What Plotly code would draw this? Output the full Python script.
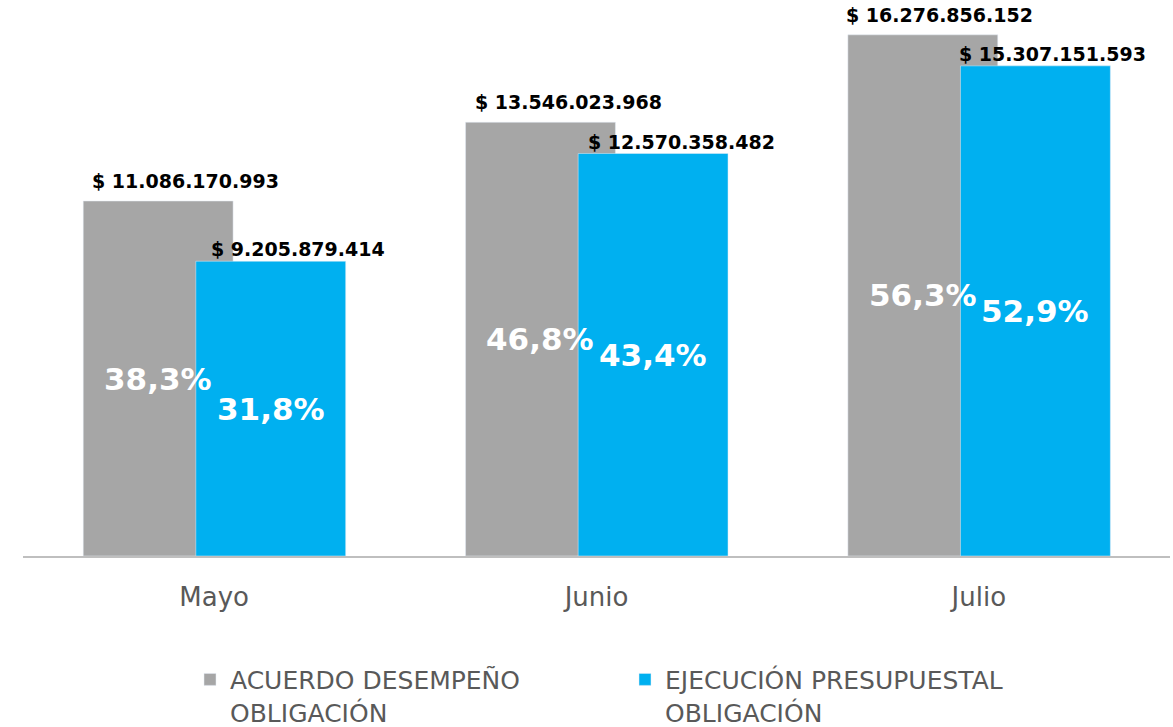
import plotly.graph_objects as go

# ---- data ----
months = ["Mayo", "Junio", "Julio"]
acuerdo = [11086170993, 13546023968, 16276856152]
ejecucion = [9205879414, 12570358482, 15307151593]
acuerdo_pct = [38.3, 46.8, 56.3]
ejecucion_pct = [31.8, 43.4, 52.9]
series_names = ["ACUERDO DESEMPEÑO<br>OBLIGACIÓN", "EJECUCIÓN PRESUPUESTAL<br>OBLIGACIÓN"]

# ---- style ----
GRAY = "#A6A6A6"
BLUE = "#00B0F0"
BAR_W = 0.392
OFF_GRAY = -0.3425
OFF_BLUE = -0.048
LABEL_DX = [27, 28, 17]
DY_GRAY = 20
DY_BLUE = 12
FONT = "DejaVu Sans"
PLOT_H = 556


def fmt_money(v):
    return "$ " + f"{v:,}".replace(",", ".")


def fmt_pct(p):
    return f"{p:.1f}".replace(".", ",") + "%"


fig = go.Figure()
fig.add_trace(go.Bar(x=months, y=acuerdo, name=series_names[0], marker_color=GRAY,
                     width=BAR_W, offset=OFF_GRAY, hoverinfo="skip"))
fig.add_trace(go.Bar(x=months, y=ejecucion, name=series_names[1], marker_color=BLUE,
                     width=BAR_W, offset=OFF_BLUE, hoverinfo="skip"))

annotations = []
for i in range(len(months)):
    for vals, pcts, off, dy in ((acuerdo, acuerdo_pct, OFF_GRAY, DY_GRAY),
                                (ejecucion, ejecucion_pct, OFF_BLUE, DY_BLUE)):
        xc = i + off + BAR_W / 2
        annotations.append(dict(x=xc, y=vals[i], xref="x", yref="y", text=fmt_money(vals[i]),
                                showarrow=False, yanchor="middle", xanchor="center",
                                yshift=dy, xshift=LABEL_DX[i],
                                font=dict(family=FONT, size=19, color="black", weight="bold")))
        annotations.append(dict(x=xc, y=vals[i] / 2, xref="x", yref="y", text=fmt_pct(pcts[i]),
                                showarrow=False, yanchor="middle", xanchor="center",
                                font=dict(family=FONT, size=31, color="white", weight="bold")))

fig.update_layout(
    width=1173, height=727,
    margin=dict(l=23, r=3, t=0, b=727 - PLOT_H, autoexpand=False),
    barmode="overlay",
    plot_bgcolor="white", paper_bgcolor="white",
    hovermode=False,
    xaxis=dict(range=[-0.5, 2.5], showline=True, linecolor="#BFBFBF", linewidth=2,
               ticks="", showgrid=False, zeroline=False, ticklabelstandoff=17,
               tickfont=dict(family=FONT, size=26, color="#595959")),
    yaxis=dict(range=[0, PLOT_H / 32.02e-9], visible=False, showgrid=False, zeroline=False),
    showlegend=True,
    legend=dict(orientation="h", x=0.1456, xanchor="left", y=-0.181, yanchor="top",
                valign="top", entrywidth=390, traceorder="normal",
                font=dict(family=FONT, size=25, color="#595959")),
    annotations=annotations,
)

fig.write_html("out.html", config={"displayModeBar": False},
               post_script="document.body.style.margin='0';")
